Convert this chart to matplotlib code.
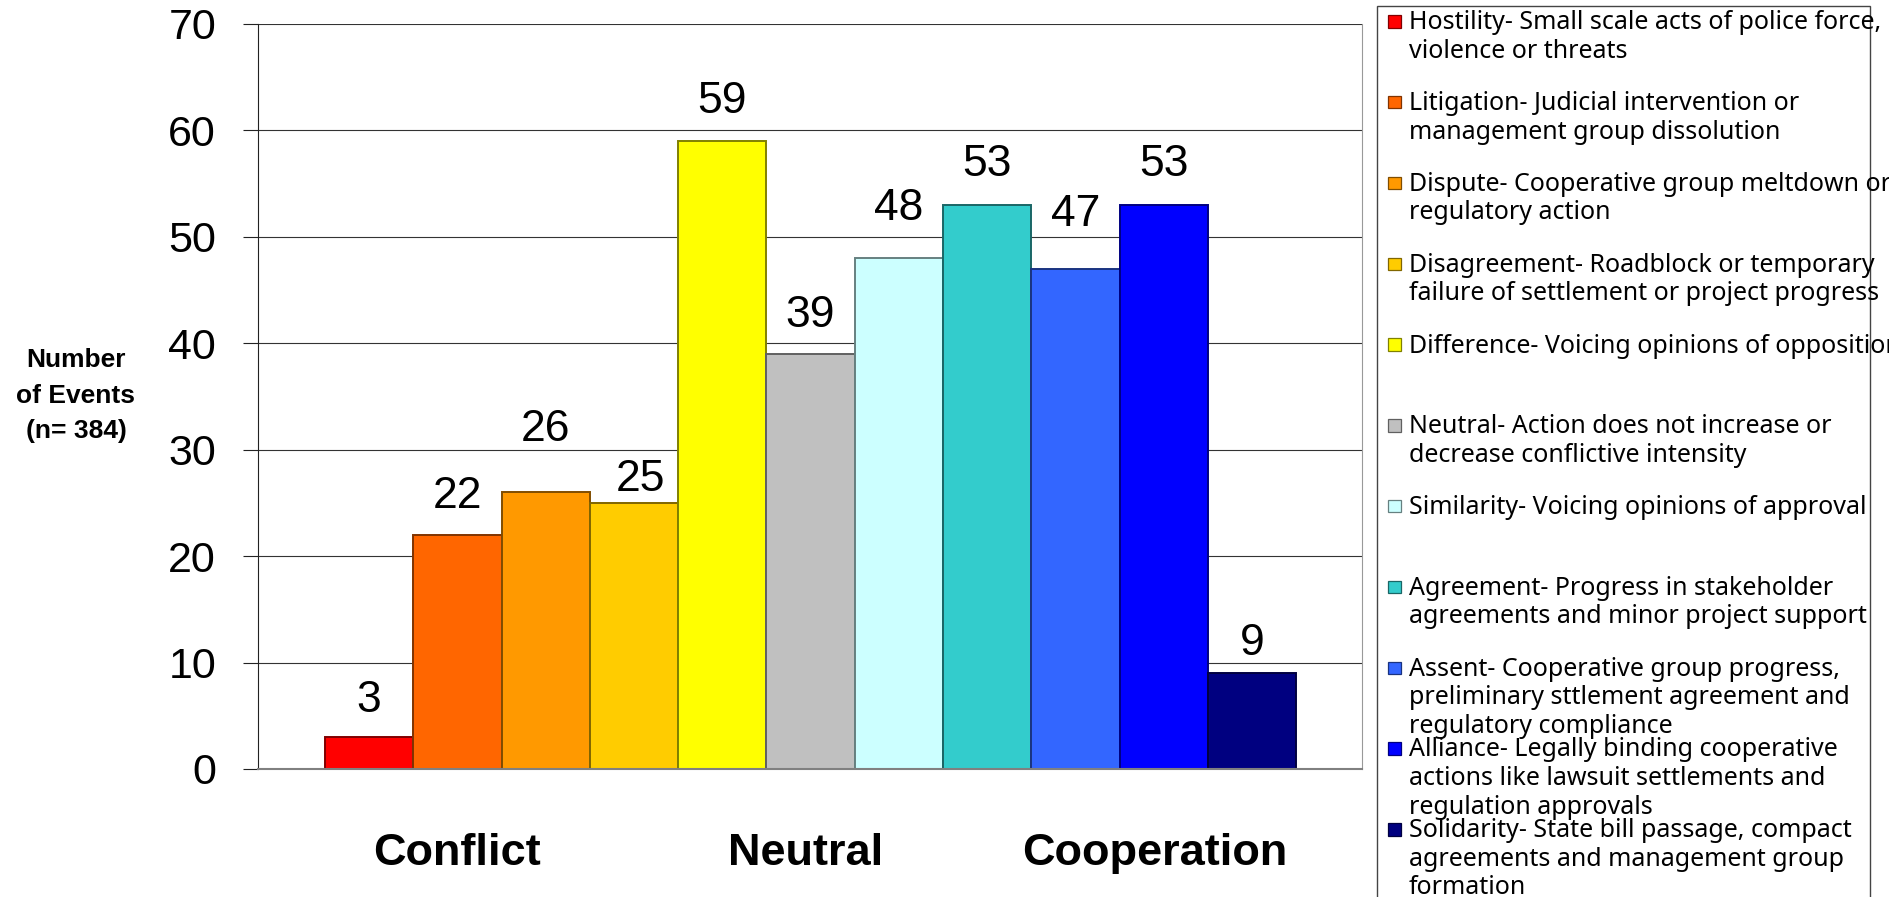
import matplotlib
matplotlib.use('Agg')
import matplotlib.pyplot as plt
import matplotlib.transforms as mtransforms
from matplotlib.patches import Rectangle
from matplotlib.colors import to_rgb

plt.rcParams['font.family'] = ['Liberation Sans', 'DejaVu Sans']

# event counts per interaction category
categories = ['Hostility', 'Litigation', 'Dispute', 'Disagreement', 'Difference',
              'Neutral', 'Similarity', 'Agreement', 'Assent', 'Alliance', 'Solidarity']
events = [3, 22, 26, 25, 59, 39, 48, 53, 47, 53, 9]
colors = ['#FF0000', '#FF6600', '#FF9900', '#FFCC00', '#FFFF00', '#C0C0C0',
          '#CCFFFF', '#33CCCC', '#3366FF', '#0000FF', '#000080']
descriptions = [
    'Hostility- Small scale acts of police force,\nviolence or threats',
    'Litigation- Judicial intervention or\nmanagement group dissolution',
    'Dispute- Cooperative group meltdown or\nregulatory action',
    'Disagreement- Roadblock or temporary\nfailure of settlement or project progress',
    'Difference- Voicing opinions of opposition',
    'Neutral- Action does not increase or\ndecrease conflictive intensity',
    'Similarity- Voicing opinions of approval',
    'Agreement- Progress in stakeholder\nagreements and minor project support',
    'Assent- Cooperative group progress,\npreliminary sttlement agreement and\nregulatory compliance',
    'Alliance- Legally binding cooperative\nactions like lawsuit settlements and\nregulation approvals',
    'Solidarity- State bill passage, compact\nagreements and management group\nformation',
]
groups = ['Conflict', 'Neutral', 'Cooperation']

# layout (pixels)
group_x = [1.0, 4.95, 8.9]
label_offsets = [(0, 25), (0, 27), (0, 51), (7, 12), (0, 28), (0, 27),
                 (0, 38), (0, 29), (0, 43), (0, 29), (0, 18)]

W, H = 1890, 897


def darker(c, f=0.5):
    r, g, b = to_rgb(c)
    return (r * f, g * f, b * f)


fig = plt.figure(figsize=(W / 100, H / 100), dpi=100)
ax = fig.add_axes([258 / W, 1 - 769 / H, (1362 - 258) / W, (769 - 23.8) / H])

x = list(range(len(events)))
ax.bar(x, events, width=1.0, color=colors,
       edgecolor=[darker(c) for c in colors], linewidth=1.4, zorder=3)

for i, v in enumerate(events):
    dx, dy = label_offsets[i]
    ax.annotate(str(v), (i, v), xytext=(dx, dy), textcoords='offset pixels',
                ha='center', va='baseline', fontsize=32)

ax.set_xlim(-1.259, 11.247)
ax.set_ylim(0, 70)
ax.set_xticks([])
ax.set_yticks(range(0, 71, 10))
ax.tick_params(axis='y', length=10.8, width=0.8, pad=19.4, labelsize=31, color='#222222')
ax.yaxis.get_major_ticks()[0].tick1line.set_color('#808080')
ax.set_axisbelow(True)
ax.yaxis.grid(True, color='#333333', linewidth=0.8)

ax.spines['top'].set_visible(False)
ax.spines['left'].set_color('#222222')
ax.spines['left'].set_linewidth(0.8)
ax.spines['right'].set_color('#999999')
ax.spines['right'].set_linewidth(0.8)
ax.spines['bottom'].set_color('#808080')
ax.spines['bottom'].set_linewidth(1.5)
ax.spines['bottom'].set_zorder(4)

trans = mtransforms.blended_transform_factory(ax.transData, ax.transAxes)
for gx, name in zip(group_x, groups):
    ax.text(gx, -0.1288, name, transform=trans, ha='center', va='baseline',
            fontsize=32.5, fontweight='bold')

# multi-line baseline alignment goes by the last line
fig.text(76 / W, 1 - 438 / H, 'Number\nof Events\n(n= 384)', ha='center',
         va='baseline', multialignment='center', fontsize=19,
         fontweight='bold', linespacing=1.6)

# legend panel
fig.add_artist(Rectangle((1377 / W, -0.05), (1870 - 1377) / W, 1 - 6 / H + 0.05,
                         transform=fig.transFigure, fill=False,
                         edgecolor='#444444', linewidth=1.0))
for i, (desc, c) in enumerate(zip(descriptions, colors)):
    base = 29.3 + 80.8 * i
    for j, line in enumerate(desc.split('\n')):
        fig.text(1409 / W, 1 - (base + 28.5 * j) / H, line, ha='left',
                 va='baseline', fontsize=18, family=['Noto Sans', 'DejaVu Sans'])
    fig.add_artist(Rectangle((1388.3 / W, 1 - (base - 1.6) / H), 12.4 / W, 12.4 / H,
                             transform=fig.transFigure, facecolor=c,
                             edgecolor=darker(c), linewidth=0.9))

fig.savefig('out.png', dpi=100)
